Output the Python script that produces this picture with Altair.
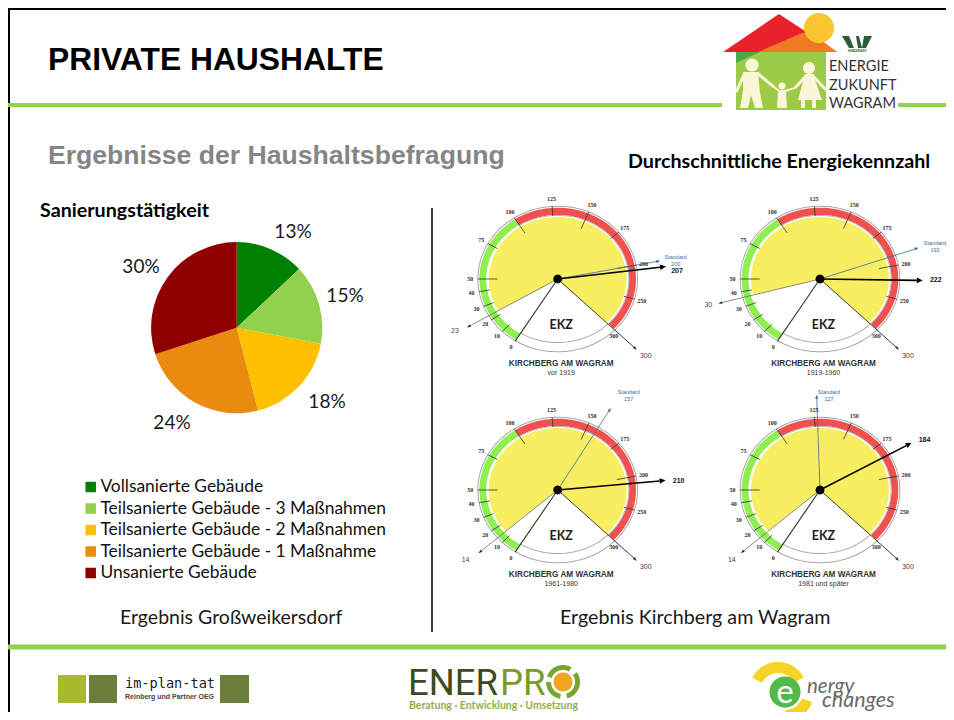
import math
import numpy as np
import altair as alt

# ---------- data ----------
pie_labels = ["Vollsanierte Gebäude", "Teilsanierte Gebäude - 3 Maßnahmen", "Teilsanierte Gebäude - 2 Maßnahmen",
              "Teilsanierte Gebäude - 1 Maßnahme", "Unsanierte Gebäude"]
pie_values = [13, 15, 18, 24, 30]
pie_colors = ["#008000", "#92D050", "#FFC000", "#E98B0E", "#900000"]

gauge_ticks = [0, 10, 20, 30, 40, 50, 75, 100, 125, 150, 175, 200, 250, 300]
gauge_angles = [-148, -136, -124, -112, -100, -90, -61, -33, -4, 23, 50, 79, 106, 134.5]
gauge_periods = ["vor 1919", "1919-1960", "1961-1980", "1981 und später"]
gauge_avg = [207, 222, 210, 184]
gauge_std = [200, 193, 157, 127]
gauge_low = [23, 30, 14, 14]
gauge_low_drawn = [23, 36, 14, 14]
gauge_max = 300

# ---------- page geometry ----------
W, H = 938, 704
GREEN = "#92D050"

def ang(v):
    return float(np.interp(v, gauge_ticks, gauge_angles))

def pt(cx, cy, a, b, deg):
    t = math.radians(deg)
    return [cx + a * math.sin(t), cy - b * math.cos(t)]

def poly(pts, c):
    p = [[q[0] - 8, q[1] - 8] for q in pts]
    return {"type": "Feature", "properties": {"c": c}, "geometry": {"type": "Polygon", "coordinates": [p + [p[0]]]}}

def sector(cx, cy, a0, b0, a1, b1, t0, t1, c):
    n = max(2, int(abs(t1 - t0) / 2))
    ts = [t0 + (t1 - t0) * i / n for i in range(n + 1)]
    outer = [pt(cx, cy, a1, b1, t) for t in ts]
    inner = [pt(cx, cy, a0, b0, t) for t in reversed(ts)] if a0 > 0 else [[cx, cy]]
    return poly(outer + inner, c)

def circle(cx, cy, r, c):
    return sector(cx, cy, 0, 0, r, r, 0, 359.9, c)

def box(x0, y0, x1, y1, c):
    return poly([[x0, y0], [x1, y0], [x1, y1], [x0, y1]], c)

X = alt.X("x:Q", scale=alt.Scale(domain=[8, 8 + W], nice=False, zero=False), axis=None)
Y = alt.Y("y:Q", scale=alt.Scale(domain=[8 + H, 8], nice=False, zero=False), axis=None)

def texts(rows, font="Lato", weight="normal", style="normal", align="left", baseline="alphabetic"):
    vals = [{"t": r[0], "x": r[1], "y": r[2], "s": r[3], "c": r[4]} for r in rows]
    return alt.Chart(alt.Data(values=vals)).mark_text(font=font, fontWeight=weight, fontStyle=style, align=align,
                                                      baseline=baseline).encode(
        x=X, y=Y, text="t:N", size=alt.Size("s:Q", scale=None), color=alt.Color("c:N", scale=None))

def shapes(features):
    return alt.Chart(alt.Data(values=features)).mark_geoshape(strokeWidth=0).encode(
        fill=alt.Fill("properties.c:N", scale=None)
    ).project(type="identity", scale=1, translate=[0, 0])

def rules(rows):
    vals = [{"x": r[0], "y": r[1], "x2": r[2], "y2": r[3], "c": r[4], "w": r[5]} for r in rows]
    return alt.Chart(alt.Data(values=vals)).mark_rule().encode(
        x=X, y=Y, x2="x2:Q", y2="y2:Q", color=alt.Color("c:N", scale=None),
        strokeWidth=alt.StrokeWidth("w:Q", scale=None))

# ---------- gauges ----------
centers = [(557.7, 279), (820, 279), (557.7, 490), (820, 490)]
std_label_off = [(118, -22), (115, -36), (71, -98), (9, -98)]
low_label_off = [(-12, 3), (-10, 1), (-13, 7), (-9, 7)]
avg_label_off = [(11, 5), (13, 0), (13, 1), (13, -3)]
avg_len = [1.36, 1.28, 1.35, 1.31]
A, B = 80.3, 73.3
AI, BI = 71.5, 64
DARK, BLUE, TXT = "#2b2b2b", "#3d6d9e", "#2e2e2e"
g_under, g_lines, g_over = [], [], []
num_rows, plain_rows, avg_rows, head_rows, small_rows, ekz_rows, blue_rows = [], [], [], [], [], [], []

def arrow(cx, cy, deg, f, c, w, l, lst):
    tip = pt(cx, cy, A * f, B * f, deg)
    back = pt(cx, cy, A * f - l, B * f - l, deg)
    dx, dy = tip[0] - back[0], tip[1] - back[1]
    n = math.hypot(dx, dy)
    ox, oy = -dy / n * w, dx / n * w
    lst.append(poly([tip, [back[0] + ox, back[1] + oy], [back[0] - ox, back[1] - oy]], c))
    return back

for i, (cx, cy) in enumerate(centers):
    t0, t100, t300 = ang(0), ang(100), ang(gauge_max)
    g_under.append(sector(cx, cy, A - 1, B - 1, A, B, 0, 360, "#a8a8a8"))
    g_under.append(sector(cx, cy, AI, BI, A - 2, B - 2, t0, t100, "#8FEF50"))
    g_under.append(sector(cx, cy, AI, BI, A - 2, B - 2, t100, t300, "#F24F4F"))
    g_under.append(sector(cx, cy, AI - 0.9, BI - 0.9, AI, BI, t300, t0 + 360, "#a8a8a8"))
    g_under.append(sector(cx, cy, AI - 0.9, BI - 0.9, AI, BI, t100, t300, "#b8b8b8"))
    g_under.append(sector(cx, cy, 0, 0, 69, 62, ang(gauge_low_drawn[i]), t300, "#F8EE62"))
    for v in gauge_ticks[1:-1]:
        deep = v in (50, 100, 150, 200)
        f0 = 0.75 if deep else 0.86
        p0, p1 = pt(cx, cy, A * f0, B * f0, ang(v)), pt(cx, cy, A * .995, B * .995, ang(v))
        g_lines.append((p0[0], p0[1], p1[0], p1[1], "#333333", 0.8))
        lp = pt(cx, cy, A * 1.09, B * 1.09, ang(v))
        num_rows.append((str(v), lp[0], lp[1], 6, TXT))
    lp = pt(cx, cy, A * 1.1, B * 1.1, t0); num_rows.append(("0", lp[0], lp[1], 6, TXT))
    lp = pt(cx, cy, A * 0.98, B * 1.0, t300 + 4); num_rows.append(("300", lp[0] + 4, lp[1] + 2, 6, TXT))
    p = pt(cx, cy, A, B, t0)
    g_lines.append((cx, cy, p[0], p[1], "#404030", 1.2))
    back = arrow(cx, cy, t300, 1.38, DARK, 1.4, 4, g_over)
    g_lines.append((cx, cy, back[0], back[1], "#404030", 1.0))
    lp = pt(cx, cy, A * 1.38, B * 1.38, t300)
    plain_rows.append(("300", lp[0] + 9, lp[1] + 6, 7, "#444444"))
    d = ang(gauge_low_drawn[i])
    back = arrow(cx, cy, d, 1.31, DARK, 1.4, 4, g_over)
    g_lines.append((cx, cy, back[0], back[1], "#5a5a50", 0.7))
    lp = pt(cx, cy, A * 1.31, B * 1.31, d)
    plain_rows.append((str(gauge_low[i]), lp[0] + low_label_off[i][0], lp[1] + low_label_off[i][1], 7, "#444444"))
    d = ang(gauge_std[i])
    back = arrow(cx, cy, d, 1.3, BLUE, 1.6, 4, g_over)
    g_lines.append((cx, cy, back[0], back[1], BLUE, 0.8))
    ox, oy = std_label_off[i]
    blue_rows.append(("Standard", cx + ox, cy + oy, 5.5, BLUE))
    blue_rows.append((str(gauge_std[i]), cx + ox, cy + oy + 6.5, 5.5, BLUE))
    d = ang(gauge_avg[i])
    back = arrow(cx, cy, d, avg_len[i], "#000000", 2.8, 6, g_over)
    g_lines.append((cx, cy, back[0], back[1], "#000000", 1.6))
    lp = pt(cx, cy, A * avg_len[i], B * avg_len[i], d)
    ox, oy = avg_label_off[i]
    avg_rows.append((str(gauge_avg[i]), lp[0] + ox, lp[1] + oy, 7, "#111111"))
    g_over.append(circle(cx, cy, 4.4, "#000000"))
    ekz_rows.append(("EKZ", cx + 3.5, cy + 46, 12.5, "#222222"))
    head_rows.append(("KIRCHBERG AM WAGRAM", cx + 3.5, cy + 85, 8.2, "#333333"))
    small_rows.append((gauge_periods[i], cx + 3.5, cy + 94, 7, "#333333"))

# ---------- logo: house ----------
CREAM = "#FBF6D8"
logo = [
    box(736, 52, 826, 110, "#9CCB4A"),
    poly([[736, 52], [760, 52], [736, 63]], "#4CA84A"),
    poly([[723, 52], [779, 14], [837, 52]], "#E8212B"),
    poly([[758, 52], [802, 33], [812, 33], [837, 52]], "#EE7A24"),
    circle(819, 28, 15, "#FBC52F"),
    circle(752, 65, 6.5, CREAM),
    poly([[743, 72], [758, 72], [760, 93], [763, 108], [755, 108], [751, 95], [748, 108], [740, 108], [743, 90]], CREAM),
    circle(782, 86, 3.6, CREAM),
    poly([[778, 90], [786, 90], [787, 108], [777, 108]], CREAM),
    circle(809, 68, 6, CREAM),
    poly([[805, 74], [813, 74], [822, 100], [798, 100]], CREAM),
    box(801, 100, 805, 108, CREAM), box(812, 100, 816, 108, CREAM),
    poly([[842, 36], [849, 36], [854, 48], [849, 48]], "#2E5B3A"),
    poly([[856, 36], [859, 36], [862, 48], [858, 48]], "#2E5B3A"),
    poly([[864, 36], [872, 36], [866, 48], [862, 48]], "#2E5B3A"),
]
logo_lines = [
    (745, 73, 736, 92, CREAM, 3), (757, 73, 774, 87, CREAM, 3), (779, 91, 774, 87, CREAM, 2),
    (785, 91, 795, 88, CREAM, 2), (807, 75, 795, 88, CREAM, 3), (812, 75, 826, 90, CREAM, 3),
]

# ---------- footer logos ----------
footer = [
    box(58, 675, 86, 703, "#A6B92F"), box(89, 675, 117, 703, "#6B7F3A"), box(220, 675, 249, 703, "#6B7F3A"),
    circle(563, 682, 9.5, "#F2A51E"),
    sector(563, 682, 12, 12, 17, 17, -70, 30, "#7AA52F"),
    sector(563, 682, 12, 12, 17, 17, 55, 165, "#7AA52F"),
    sector(563, 682, 12, 12, 17, 17, 190, 270, "#7AA52F"),
    sector(778, 691, 18, 18, 29, 29, -63, 62, "#F5D327"),
    sector(785, 692, 18, 18, 29, 29, 110, 180, "#F5D327"),
    circle(785, 692, 15.5, "#54B948"),
]

# ---------- page furniture ----------
frame = [
    (8, 8.5, 954, 8.5, "#000000", 3), (8.5, 8, 8.5, 720, "#000000", 3),
    (8, 105, 722, 105, GREEN, 4), (898, 105, 954, 105, GREEN, 4),
    (8, 647, 954, 647, GREEN, 5),
    (432, 208, 432, 632, "#404040", 2),
]

# ---------- pie ----------
pie_df = [{"k": k, "v": v, "i": i} for i, (k, v) in enumerate(zip(pie_labels, pie_values))]
pie = alt.Chart(alt.Data(values=pie_df)).mark_arc(outerRadius=85.6).encode(
    theta=alt.Theta("v:Q", stack=True),
    order=alt.Order("i:Q"),
    x=alt.value(236.7 - 8), y=alt.value(327.7 - 8),
    color=alt.Color("k:N", scale=alt.Scale(domain=pie_labels, range=pie_colors), sort=pie_labels,
                    legend=alt.Legend(title=None, orient="none", legendX=74, legendY=470, symbolType="square",
                                      symbolSize=110, symbolStrokeWidth=0, labelFont="Lato", labelFontSize=17.4,
                                      labelColor="#111111", labelLimit=400, rowPadding=3.5, clipHeight=18,
                                      labelOffset=1)))

pct_pos = [(293, 238), (345, 302), (327, 408), (172, 429), (141, 273)]
pct_rows = [(f"{v}%", x, y, 19, "#1a1a1a") for v, (x, y) in zip(pie_values, pct_pos)]

layers = [
    shapes(g_under + logo + footer),
    rules(frame + g_lines + logo_lines),
    shapes(g_over),
    pie,
    texts(pct_rows, align="center"),
    texts([("PRIVATE HAUSHALTE", 48, 70, 31.8, "#000000")], font="Liberation Sans", weight="bold"),
    texts([("Ergebnisse der Haushaltsbefragung", 48, 164, 26.6, "#858585")], font="Liberation Sans", weight="bold"),
    texts([("Durchschnittliche Energiekennzahl", 628, 168, 19.7, "#000000"),
           ("Sanierungstätigkeit", 40, 217, 19.7, "#000000")], weight="bold"),
    texts([("Ergebnis Großweikersdorf", 120, 624, 19.5, "#1a1a1a"),
           ("Ergebnis Kirchberg am Wagram", 560, 624, 19.7, "#1a1a1a")]),
    texts(num_rows, font="Liberation Serif", weight="bold", align="center", baseline="middle"),
    texts(avg_rows + head_rows, font="Liberation Sans", weight="bold", align="center", baseline="middle"),
    texts(plain_rows, font="Liberation Sans", align="center", baseline="middle"),
    texts(blue_rows + small_rows, font="Liberation Sans", align="center", baseline="middle"),
    texts(ekz_rows, weight="bold", align="center", baseline="middle"),
    texts([("ENERGIE", 829, 71, 14.5, "#333333"), ("ZUKUNFT", 829, 90, 14.5, "#333333"),
           ("WAGRAM", 829, 108, 14.5, "#333333")]),
    texts([("WAGRAM", 857, 52, 4, "#2E5B3A")], weight="bold", align="center"),
    texts([("im-plan-tat", 125, 688, 13.6, "#222222")], font="DejaVu Sans Mono"),
    texts([("Reinberg und Partner OEG", 125, 699, 7, "#444444")], font="Liberation Sans", weight="bold"),
    texts([("ENER", 408, 695, 36.5, "#3E4A1F")], font="Roboto"),
    texts([("PR", 500, 695, 36.5, "#7A9A2E")], font="Roboto"),
    texts([("Beratung · Entwicklung · Umsetzung", 409, 709, 10.5, "#8FAE4F")], weight="bold"),
    texts([("e", 785, 703, 33, "#FFFFFF")], align="center"),
    texts([("nergy", 807, 693, 20.5, "#6a6a6a"), ("changes", 822, 707, 21.5, "#6a6a6a")], style="italic"),
]

chart = alt.layer(*layers).resolve_scale(color="independent").properties(
    width=W, height=H, padding=0, autosize=alt.AutoSizeParams(type="none"),
    background="#FFFFFF").configure_view(stroke=None)

chart.save("out.html", embed_options={"renderer": "svg", "actions": False})
